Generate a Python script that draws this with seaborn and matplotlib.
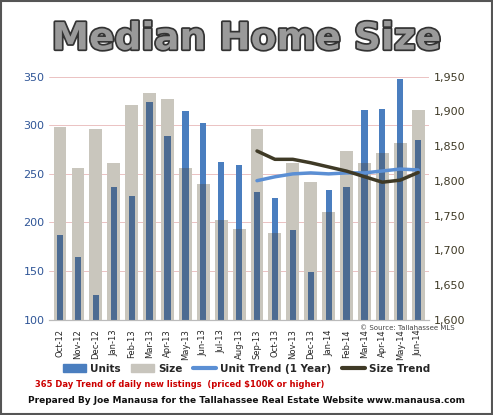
import matplotlib
matplotlib.use("Agg")
import matplotlib.pyplot as plt
import matplotlib.patheffects as pe
from matplotlib.ticker import FuncFormatter
from matplotlib.patches import Patch
from matplotlib.lines import Line2D
import seaborn as sns
import numpy as np

months = ["Oct-12", "Nov-12", "Dec-12", "Jan-13", "Feb-13", "Mar-13", "Apr-13", "May-13",
          "Jun-13", "Jul-13", "Aug-13", "Sep-13", "Oct-13", "Nov-13", "Dec-13", "Jan-14",
          "Feb-14", "Mar-14", "Apr-14", "May-14", "Jun-14"]
units = [187, 164, 125, 237, 227, 324, 289, 315, 302, 262, 259, 231, 225, 192, 149, 233,
         237, 316, 317, 348, 285]
size = [1878, 1818, 1875, 1825, 1909, 1927, 1918, 1818, 1796, 1743, 1730, 1874, 1725, 1825,
        1799, 1755, 1843, 1825, 1840, 1855, 1902]
unit_trend = [np.nan] * 11 + [243, 247, 250, 251, 250, 251, 251, 253, 255, 254]
size_trend = [np.nan] * 11 + [1843, 1831, 1831, 1826, 1820, 1814, 1806, 1798, 1801, 1812]

sns.set_style("white")
plt.rcParams["font.family"] = ["DejaVu Sans"]

fig = plt.figure(figsize=(4.93, 4.15), dpi=100)
fig.patches.append(plt.Rectangle((0.003, 0.003), 0.994, 0.994, transform=fig.transFigure,
                                 fill=False, edgecolor="#555555", linewidth=1.5))
ax = fig.add_axes([0.1, 0.23, 0.77, 0.585])
ax2 = ax.twinx()
ax2.patch.set_visible(False)

# units live on the left scale; convert to the right scale so all marks share ax2
def to_right(v):
    return 1600 + (v - 100) * 350 / 250

x = np.arange(len(months))
units_r = np.array([to_right(u) for u in units])
size_a = np.array(size)
ax2.bar(x, size_a - 1600, bottom=1600, width=0.72, color="#c9c6bd", linewidth=0, zorder=1)
# blue bar: darker where the gray size bar sits behind it
low = np.minimum(units_r, size_a)
ax2.bar(x, low - 1600, bottom=1600, width=0.35, color="#4c6b92", linewidth=0, zorder=2)
ax2.bar(x, np.maximum(units_r - size_a, 0), bottom=size_a, width=0.35, color="#4a7ebf",
        linewidth=0, zorder=2)
unit_trend_r = [to_right(v) for v in unit_trend]
sns.lineplot(x=x, y=unit_trend_r, ax=ax2, color="#5b8fd4", linewidth=2.5, legend=False, zorder=3)
sns.lineplot(x=x, y=size_trend, ax=ax2, color="#3f3a26", linewidth=2.5, legend=False, zorder=4)

ax.set_ylim(100, 350)
ax2.set_ylim(1600, 1950)
ax.set_xlim(-0.6, len(months) - 0.4)
ax.set_yticks(range(100, 351, 50))
ax2.set_yticks(range(1600, 1951, 50))
ax2.yaxis.set_major_formatter(FuncFormatter(lambda v, p: f"{int(v):,}"))
ax.set_xticks(x)
ax.set_xticklabels(months, rotation=90, fontsize=6)
ax.tick_params(axis="y", labelsize=8, labelcolor="#2f5597", length=0)
ax2.tick_params(axis="y", labelsize=8, labelcolor="#3f3a26", length=0)
ax.yaxis.grid(True, color="#e8b8b8", linewidth=0.6)
for a in (ax, ax2):
    for s in ("top", "right", "left"):
        a.spines[s].set_visible(False)
    a.spines["bottom"].set_color("#bbbbbb")

handles = [Patch(color="#4a7ebf"), Patch(color="#c8c5bd"),
           Line2D([], [], color="#5b8fd4", lw=3), Line2D([], [], color="#3f3a26", lw=3)]
fig.legend(handles, ["Units", "Size", "Unit Trend (1 Year)", "Size Trend"], ncol=4,
           loc="center", bbox_to_anchor=(0.5, 0.112), frameon=False,
           prop={"weight": "bold", "size": 7.5}, handlelength=2.2, columnspacing=1.0,
           handletextpad=0.4)

fig.text(0.5, 0.905, "Median Home Size", ha="center", va="center", fontsize=27,
         weight="bold", color="#9a9a9a",
         path_effects=[pe.withStroke(linewidth=2.5, foreground="#333333")])
fig.text(0.73, 0.205, "\u00a9 Source: Tallahassee MLS", fontsize=5, color="#444444")
fig.text(0.07, 0.068, "365 Day Trend of daily new listings  (priced $100K or higher)",
         fontsize=6, color="#cc0000", weight="bold")
fig.text(0.5, 0.03, "Prepared By Joe Manausa for the Tallahassee Real Estate Website www.manausa.com",
         ha="center", fontsize=6.5, weight="bold", color="#111111")

fig.savefig("out.png", dpi=100)
